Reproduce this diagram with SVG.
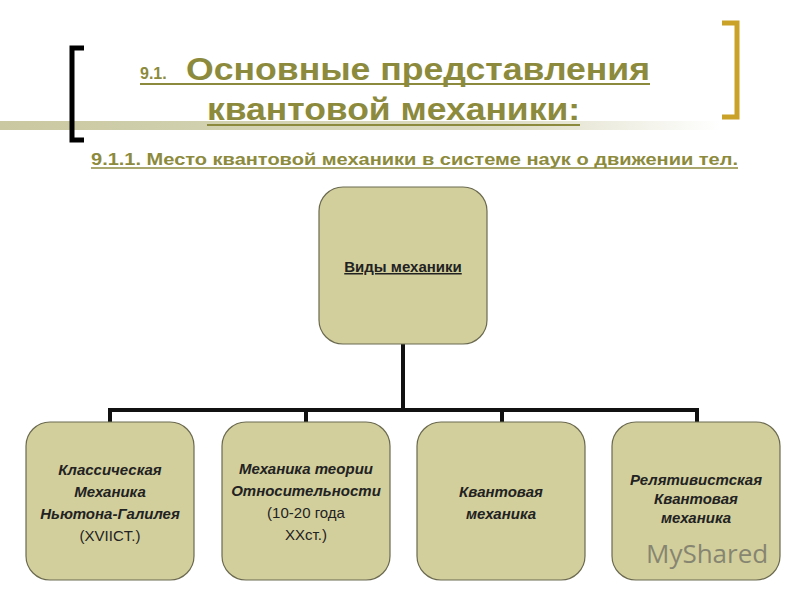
<svg xmlns="http://www.w3.org/2000/svg" width="800" height="600" viewBox="0 0 800 600">
<defs>
<linearGradient id="bar" x1="0" x2="1" y1="0" y2="0">
<stop offset="0" stop-color="#c9c8a0"/><stop offset="0.7" stop-color="#dddcc4"/><stop offset="1" stop-color="#ffffff"/>
</linearGradient>
</defs>
<style>
.t{font-family:"Liberation Sans",Arial,sans-serif;font-weight:bold;fill:#8c8a3c}
.box{fill:#d2cf9c;stroke:#6b6a50;stroke-width:1.2}
.lbl{font-family:"Liberation Sans",Arial,sans-serif;font-size:15px;fill:#222;text-anchor:middle}
.b{font-weight:bold;font-style:italic}
.conn{fill:none;stroke:#111;stroke-width:4}
</style>
<rect width="800" height="600" fill="#fff"/>
<rect x="0" y="121" width="720" height="9" fill="url(#bar)"/>
<path d="M84,48 H72 V140 H84" fill="none" stroke="#000" stroke-width="5"/>
<path d="M722,23 H737 V117 H722" fill="none" stroke="#c9a227" stroke-width="5"/>
<text class="t" x="140" y="79" font-size="16" font-weight="normal">9.1.</text>
<text class="t" x="186" y="80" font-size="31" textLength="464" lengthAdjust="spacingAndGlyphs">Основные представления</text>
<line x1="140" y1="84" x2="650" y2="84" stroke="#8c8a3c" stroke-width="2"/>
<text class="t" x="207" y="120" font-size="31" textLength="373" lengthAdjust="spacingAndGlyphs">квантовой механики:</text>
<line x1="207" y1="125" x2="580" y2="125" stroke="#8c8a3c" stroke-width="2"/>
<text class="t" x="91" y="165" font-size="16" textLength="647" lengthAdjust="spacingAndGlyphs">9.1.1. Место квантовой механики в системе наук о движении тел.</text>
<line x1="91" y1="168" x2="738" y2="168" stroke="#8c8a3c" stroke-width="1.5"/>
<g id="connectors">
<path class="conn" d="M403,344 V410 M110,410 H697 M110,408 V422 M306,408 V422 M502,408 V422 M697,408 V422"/>
</g>
<g id="root">
<rect class="box" x="319" y="187" width="168" height="157" rx="24"/>
<text class="lbl" x="403" y="272" font-weight="bold" text-decoration="underline">Виды механики</text>
</g>
<g id="n1">
<rect class="box" x="26" y="422" width="168" height="158" rx="24"/>
<text class="lbl" x="110" y="475"><tspan class="b" x="110">Классическая</tspan><tspan class="b" x="110" dy="22">Механика</tspan><tspan class="b" x="110" dy="22">Ньютона-Галилея</tspan><tspan x="110" dy="22">(XVIICT.)</tspan></text>
</g>
<g id="n2">
<rect class="box" x="222" y="422" width="168" height="158" rx="24"/>
<text class="lbl" x="306" y="474"><tspan class="b" x="306">Механика теории</tspan><tspan class="b" x="306" dy="22">Относительности</tspan><tspan x="306" dy="22">(10-20 года</tspan><tspan x="306" dy="22">XXст.)</tspan></text>
</g>
<g id="n3">
<rect class="box" x="417" y="422" width="168" height="158" rx="24"/>
<text class="lbl" x="501" y="497"><tspan class="b" x="501">Квантовая</tspan><tspan class="b" x="501" dy="22">механика</tspan></text>
</g>
<g id="n4">
<rect class="box" x="612" y="422" width="168" height="158" rx="24"/>
<text class="lbl" x="696" y="485"><tspan class="b" x="696">Релятивистская</tspan><tspan class="b" x="696" dy="19">Квантовая</tspan><tspan class="b" x="696" dy="19">механика</tspan></text>
</g>
<text x="646" y="563" font-family="'Open Sans',sans-serif" font-size="26" fill="#555" opacity="0.6">MyShared</text>
</svg>
